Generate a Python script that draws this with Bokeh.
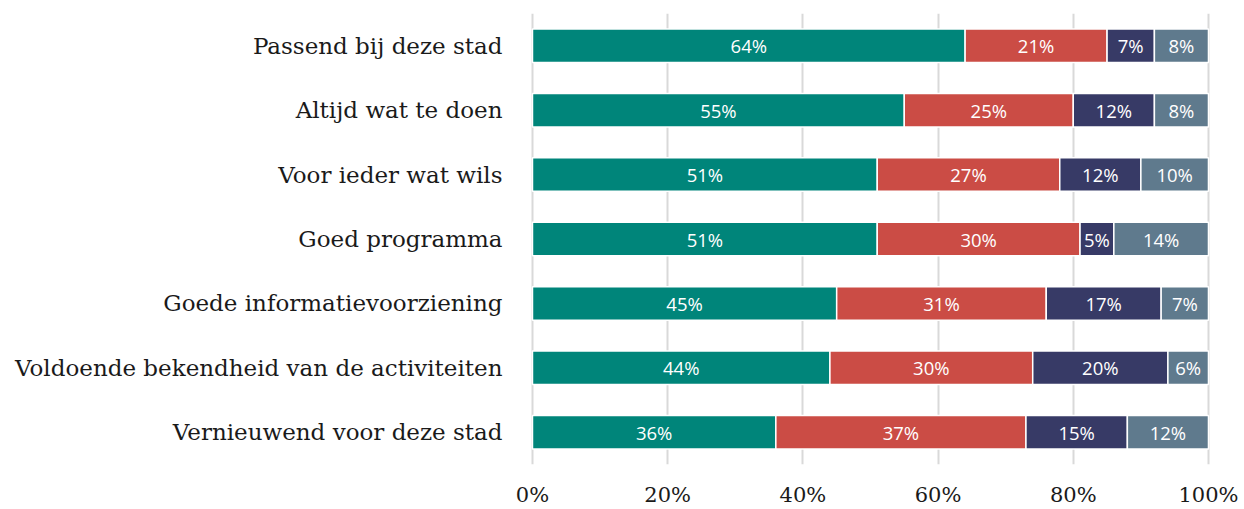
from bokeh.plotting import figure
from bokeh.models import ColumnDataSource, FactorRange, Range1d, FixedTicker, CustomJSTickFormatter
from bokeh.core.properties import value
from bokeh.embed import file_html
from bokeh.resources import INLINE

categories = [
    "Passend bij deze stad",
    "Altijd wat te doen",
    "Voor ieder wat wils",
    "Goed programma",
    "Goede informatievoorziening",
    "Voldoende bekendheid van de activiteiten",
    "Vernieuwend voor deze stad",
]
s1 = [64, 55, 51, 51, 45, 44, 36]
s2 = [21, 25, 27, 30, 31, 30, 37]
s3 = [7, 12, 12, 5, 17, 20, 15]
s4 = [8, 8, 10, 14, 7, 6, 12]
series_names = ["s1", "s2", "s3", "s4"]
colors = ["#00857a", "#cb4c45", "#373a66", "#5f7a8d"]
tick_values = [0, 20, 40, 60, 80, 100]

data = {"cat": categories, "s1": s1, "s2": s2, "s3": s3, "s4": s4}
source = ColumnDataSource(data)

p = figure(
    width=1244, height=509,
    y_range=FactorRange(factors=list(reversed(categories)), range_padding=0),
    x_range=Range1d(-0.59, 105.33),
    output_backend="svg", toolbar_location=None,
    min_border_left=528, min_border_right=0, min_border_top=13, min_border_bottom=43,
)
p.outline_line_color = None
p.background_fill_color = "white"

p.hbar_stack(series_names, y="cat", height=0.52, color=colors, source=source,
             line_color="white", line_width=1.5)

# labels at segment centres
lx, ly, lt = [], [], []
for i, c in enumerate(categories):
    left = 0
    for vals in (s1, s2, s3, s4):
        v = vals[i]
        lx.append(left + v / 2)
        ly.append(c)
        lt.append(f"{v}%")
        left += v
p.text(x=lx, y=ly, text=lt, text_align="center", text_baseline="middle",
       text_color="white", text_font=value("Open Sans"), text_font_size="18.5px")

p.xgrid.ticker = FixedTicker(ticks=tick_values)
p.xgrid.grid_line_color = "#d9d9d9"
p.xgrid.grid_line_width = 2
p.ygrid.grid_line_color = None

p.xaxis.ticker = FixedTicker(ticks=tick_values)
p.xaxis.formatter = CustomJSTickFormatter(code="return tick + '%';")
p.xaxis.axis_line_color = None
p.xaxis.major_tick_line_color = None
p.xaxis.minor_tick_line_color = None
p.xaxis.major_label_text_font = "DejaVu Serif"
p.xaxis.major_label_text_font_size = "21px"
p.xaxis.major_label_text_color = "#1a1a1a"
p.xaxis.major_label_standoff = 12

p.yaxis.axis_line_color = None
p.yaxis.major_tick_line_color = None
p.yaxis.minor_tick_line_color = None
p.yaxis.major_label_text_font = "DejaVu Serif"
p.yaxis.major_label_text_font_size = "23px"
p.yaxis.major_label_text_color = "#1a1a1a"
p.yaxis.major_label_standoff = 20

open("out.html", "w").write(file_html(p, INLINE))
